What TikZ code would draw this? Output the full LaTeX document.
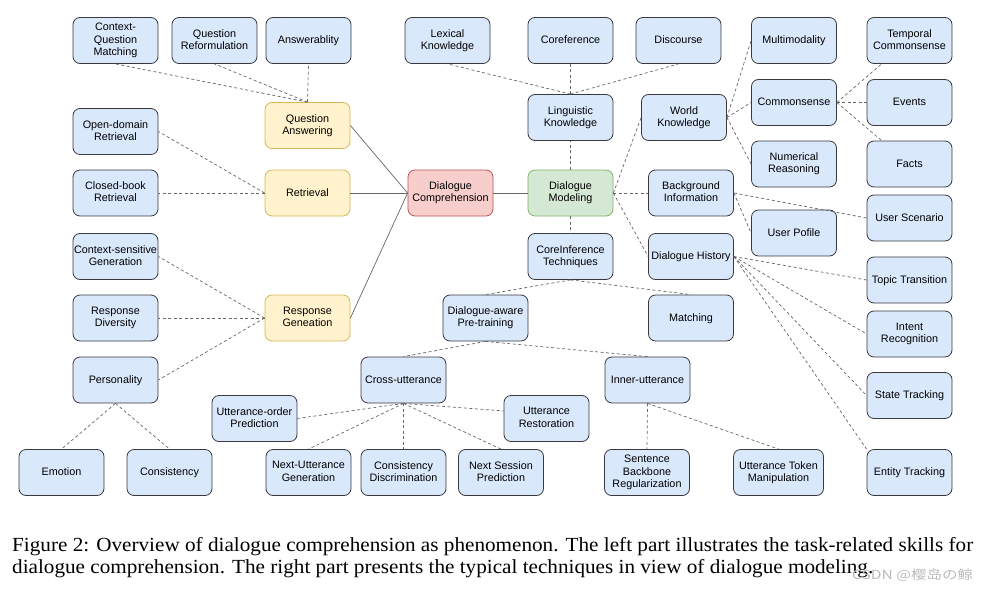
\documentclass[tikz,border=0pt]{standalone}
\usepackage{fontspec}
\usepackage{graphicx}
\setmainfont{Liberation Sans}
\newfontfamily\capfont{Liberation Serif}
\newfontfamily\cjkfont{Noto Sans CJK SC}
\definecolor{myblue}{rgb}{0.855, 0.91, 0.988}
\definecolor{myborder}{rgb}{0.22, 0.22, 0.24}
\definecolor{myyellow}{rgb}{1.0, 0.949, 0.8}
\definecolor{myyellowline}{rgb}{0.839, 0.714, 0.337}
\definecolor{myred}{rgb}{0.973, 0.808, 0.8}
\definecolor{myredline}{rgb}{0.722, 0.329, 0.314}
\definecolor{mygreen}{rgb}{0.835, 0.91, 0.831}
\definecolor{mygreenline}{rgb}{0.51, 0.702, 0.4}
\definecolor{mygray}{rgb}{0.4, 0.4, 0.4}

\begin{document}
\begin{tikzpicture}[x=1pt, y=-1pt,
    box/.style={draw=myborder, fill=myblue, rounded corners=7pt, line width=0.8pt,
        minimum width=85pt, minimum height=46pt, inner sep=1pt, align=center,
        font=\fontsize{10.8}{12.4}\selectfont,
        execute at begin node={\rule[-2.3pt]{0pt}{11pt}},
        execute at end node={\rule[-2.3pt]{0pt}{11pt}}},
    task/.style={box, draw=myyellowline, fill=myyellow},
    root/.style={box, draw=myredline, fill=myred},
    model/.style={box, draw=mygreenline, fill=mygreen},
    link/.style={draw=mygray, line width=0.7pt},
    dlink/.style={link, dash pattern=on 3pt off 2.5pt}]

            \useasboundingbox (0,0) rectangle (989,592);

            % left part: skills
            \node[box] (cqm) at (115.5,40.5) {Context-\\Question\\Matching};
            \node[box] (qr) at (214.5,40.5) {Question\\Reformulation};
            \node[box] (ans) at (308.5,40.5) {Answerablity};
            \node[task] (qa) at (307.5,125.5) {Question\\Answering};
            \node[box] (odr) at (115.5,131.5) {Open-domain\\Retrieval};
            \node[box] (cbr) at (115.5,193) {Closed-book\\Retrieval};
            \node[task] (ret) at (307.5,193) {Retrieval};
            \node[box] (csg) at (115.5,256.5) {Context-sensitive\\Generation};
            \node[box] (rd) at (115.5,318) {Response\\Diversity};
            \node[box] (pers) at (115.5,380) {Personality};
            \node[task] (rg) at (307.5,318) {Response\\Geneation};
            \node[box] (emo) at (61.5,472.5) {Emotion};
            \node[box] (cons) at (169.5,472.5) {Consistency};

            \node[root] (dc) at (450.5,193) {Dialogue\\Comprehension};
            \node[model] (dm) at (570.5,193) {Dialogue\\Modeling};

            % right part: modeling
            \node[box] (lex) at (447.5,40.5) {Lexical\\Knowledge};
            \node[box] (coref) at (570.5,40.5) {Coreference};
            \node[box] (disc) at (678.5,40.5) {Discourse};
            \node[box] (ling) at (570.5,117.5) {Linguistic\\Knowledge};
            \node[box] (wk) at (684,117.5) {World\\Knowledge};
            \node[box] (multi) at (794,40.5) {Multimodality};
            \node[box] (cs) at (794,102.5) {Commonsense};
            \node[box] (num) at (794,164) {Numerical\\Reasoning};
            \node[box] (tc) at (909.5,40.5) {Temporal\\Commonsense};
            \node[box] (events) at (909.5,102.5) {Events};
            \node[box] (facts) at (909.5,164) {Facts};
            \node[box] (bg) at (691,193) {Background\\Information};
            \node[box] (us) at (909.5,218) {User Scenario};
            \node[box] (up) at (794,233) {User Pofile};
            \node[box] (dh) at (691,256.5) {Dialogue History};
            \node[box] (tt) at (909.5,280) {Topic Transition};
            \node[box] (ir) at (909.5,334) {Intent\\Recognition};
            \node[box] (st) at (909.5,395.5) {State Tracking};
            \node[box] (et) at (909.5,472.5) {Entity Tracking};

            % techniques
            \node[box] (cit) at (570.5,256.5) {CoreInference\\Techniques};
            \node[box] (match) at (691,318) {Matching};
            \node[box] (dap) at (485.5,318) {Dialogue-aware\\Pre-training};
            \node[box] (cross) at (403.5,380) {Cross-utterance};
            \node[box] (inner) at (647.5,380) {Inner-utterance};
            \node[box] (uop) at (254.5,418.5) {Utterance-order\\Prediction};
            \node[box] (ur) at (546.5,418.5) {Utterance\\Restoration};
            \node[box] (nug) at (308.5,472.5) {Next-Utterance\\Generation};
            \node[box] (cd) at (403.5,472.5) {Consistency\\Discrimination};
            \node[box] (nsp) at (501,472.5) {Next Session\\Prediction};
            \node[box] (sbr) at (647,472.5) {Sentence\\Backbone\\Regularization};
            \node[box, minimum width=90pt] (utm) at (778.5,472.5) {Utterance Token\\Manipulation};

            \draw[link] (dc.west) -- (qa.east);
            \draw[link] (dc.west) -- (ret.east);
            \draw[link] (dc.west) -- (rg.east);
            \draw[link] (dc.east) -- (dm.west);

            \draw[dlink] (qa.north) -- (cqm.south);
            \draw[dlink] (qa.north) -- (qr.south);
            \draw[dlink] (qa.north) -- (ans.south);
            \draw[dlink] (ret.west) -- (odr.east);
            \draw[dlink] (ret.west) -- (cbr.east);
            \draw[dlink] (rg.west) -- (csg.east);
            \draw[dlink] (rg.west) -- (rd.east);
            \draw[dlink] (rg.west) -- (pers.east);
            \draw[dlink] (pers.south) -- (emo.north);
            \draw[dlink] (pers.south) -- (cons.north);

            \draw[dlink] (ling.north) -- (lex.south);
            \draw[dlink] (ling.north) -- (coref.south);
            \draw[dlink] (ling.north) -- (disc.south);
            \draw[dlink] (dm.north) -- (ling.south);
            \draw[dlink] (dm.east) -- (wk.west);
            \draw[dlink] (dm.east) -- (bg.west);
            \draw[dlink] (dm.east) -- (dh.west);
            \draw[dlink] (dm.south) -- (cit.north);
            \draw[dlink] (wk.east) -- (multi.west);
            \draw[dlink] (wk.east) -- (cs.west);
            \draw[dlink] (wk.east) -- (num.west);
            \draw[dlink] (cs.east) -- (tc.220);
            \draw[dlink] (cs.east) -- (events.west);
            \draw[dlink] (cs.east) -- (facts.140);
            \draw[dlink] (bg.east) -- (us.west);
            \draw[dlink] (bg.east) -- (up.west);
            \draw[dlink] (dh.east) -- (tt.west);
            \draw[dlink] (dh.east) -- (ir.west);
            \draw[dlink] (dh.east) -- (st.west);
            \draw[dlink] (dh.east) -- (et.north west);

            \draw[dlink] (cit.south) -- (dap.north);
            \draw[dlink] (cit.south) -- (match.north);
            \draw[dlink] (dap.south) -- (cross.north);
            \draw[dlink] (dap.south) -- (inner.north);
            \draw[dlink] (cross.south) -- (uop.east);
            \draw[dlink] (cross.south) -- (nug.north);
            \draw[dlink] (cross.south) -- (cd.north);
            \draw[dlink] (cross.south) -- (nsp.north);
            \draw[dlink] (cross.south) -- (ur.170);
            \draw[dlink] (inner.south) -- (sbr.north);
            \draw[dlink] (inner.south) -- (utm.north);

            % caption
            \node[anchor=base west, inner sep=0pt] (caption) at (12,551)
                {\resizebox{961pt}{\height}{\capfont\fontsize{20}{22}\selectfont
                \begin{tabular}[t]{@{}l@{}}Figure 2: Overview of dialogue comprehension as phenomenon. The left part illustrates the task-related skills for\\
                dialogue comprehension. The right part presents the typical techniques in view of dialogue modeling.\end{tabular}}};
            \node[anchor=base west, inner sep=0pt, text=gray!55] (mark) at (852,579)
                {\resizebox{121pt}{\height}{\cjkfont\fontsize{12.5}{14}\selectfont CSDN @樱岛の鲸}};
        \end{tikzpicture}
\end{document}
